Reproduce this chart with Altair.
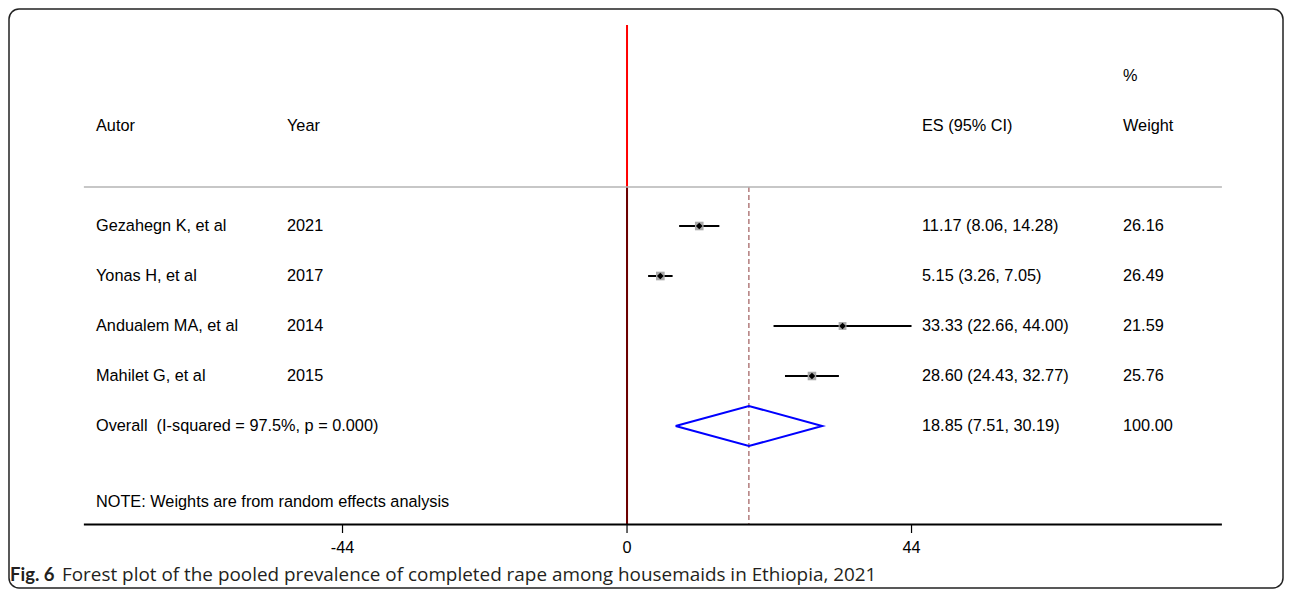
import altair as alt
import pandas as pd

# ---- data ----
authors = ["Gezahegn K, et al", "Yonas H, et al", "Andualem MA, et al", "Mahilet G, et al"]
years = ["2021", "2017", "2014", "2015"]
es = [11.17, 5.15, 33.33, 28.60]
ci_low = [8.06, 3.26, 22.66, 24.43]
ci_high = [14.28, 7.05, 44.00, 32.77]
weights = [26.16, 26.49, 21.59, 25.76]

overall_label = "Overall\u00a0 (I-squared = 97.5%, p = 0.000)"
overall_es = 18.85
overall_low = 7.51
overall_high = 30.19
overall_weight = 100.00

header_cols = ["Autor", "Year", "ES (95% CI)", "Weight"]
weight_top = "%"
x_ticks = [-44, 0, 44]
axis_range = [-84, 92]
note = "NOTE: Weights are from random effects analysis"
caption_bold = "Fig. 6"
caption_text = "Forest plot of the pooled prevalence of completed rape among housemaids in Ethiopia, 2021"

# ---- layout (row units: one study row = 1) ----
ROW_PCT, ROW_HEAD, ROW_SEP = -2, -1, 0.22
ROW_OVERALL, ROW_NOTE, ROW_AXIS = 5, 6.52, 6.97
ROW_TICKLAB, ROW_CAPTION, ROW_TOP = 7.44, 7.98, -3.02
DIAMOND_H = 0.4

W, H = 1274, 579
X = alt.Scale(domain=[-95.58, 101.45], nice=False, zero=False)
Y = alt.Scale(domain=[-3.34, 8.24], reverse=True, nice=False, zero=False)
COL_AUTHOR, COL_YEAR, COL_ES, COL_W = 87, 278, 913, 1114
FONT = "Liberation Sans"
FS = 16.3

rows = list(range(1, len(authors) + 1))
studies = pd.DataFrame({
    "row": rows, "author": authors, "year": years, "es": es,
    "lo": ci_low, "hi": ci_high, "w": weights,
    "es_txt": [f"{e:.2f} ({l:.2f}, {h:.2f})" for e, l, h in zip(es, ci_low, ci_high)],
    "w_txt": [f"{w:.2f}" for w in weights],
})

table = pd.DataFrame({
    "row": rows + [ROW_OVERALL],
    "author": authors + [overall_label],
    "year": years + [""],
    "es_txt": list(studies["es_txt"]) + [f"{overall_es:.2f} ({overall_low:.2f}, {overall_high:.2f})"],
    "w_txt": list(studies["w_txt"]) + [f"{overall_weight:.2f}"],
})

header = pd.DataFrame({"row": [ROW_HEAD], "a": [header_cols[0]], "y": [header_cols[1]],
                       "e": [header_cols[2]], "w": [header_cols[3]], "pct": [weight_top]})

def xq(f):
    return alt.X(f, type="quantitative", scale=X, axis=None)

def yq(f):
    return alt.Y(f, type="quantitative", scale=Y, axis=None)

layers = []

# vertical reference lines
vlines = pd.DataFrame({"x": [0.0], "top": [ROW_TOP], "bot": [ROW_AXIS]})
layers.append(alt.Chart(vlines).mark_rule(color="#ff0000", strokeWidth=2).encode(
    x=xq("x"), y=yq("top"), y2="bot"))
inner = pd.DataFrame({"x": [0.0], "top": [ROW_SEP], "bot": [ROW_AXIS]})
layers.append(alt.Chart(inner).mark_rule(color="#6b0000", strokeWidth=2).encode(
    x=xq("x"), y=yq("top"), y2="bot"))
dash = pd.DataFrame({"x": [overall_es], "top": [ROW_SEP], "bot": [ROW_AXIS]})
layers.append(alt.Chart(dash).mark_rule(color="#8b3a3a", strokeWidth=1, strokeDash=[5, 3]).encode(
    x=xq("x"), y=yq("top"), y2="bot"))

# separator and axis lines
hl = pd.DataFrame({"x": [axis_range[0]], "x2": [axis_range[1]], "r": [ROW_SEP]})
layers.append(alt.Chart(hl).mark_rule(color="#b4b4b4", strokeWidth=1.5).encode(
    x=xq("x"), x2="x2", y=yq("r")))
al = pd.DataFrame({"x": [axis_range[0]], "x2": [axis_range[1]], "r": [ROW_AXIS]})
layers.append(alt.Chart(al).mark_rule(color="#000000", strokeWidth=2).encode(
    x=xq("x"), x2="x2", y=yq("r")))

ticks = pd.DataFrame({"t": x_ticks, "r": [ROW_AXIS] * 3, "r2": [ROW_AXIS + 0.17] * 3,
                      "lab": [str(t) for t in x_ticks], "rl": [ROW_TICKLAB] * 3})
layers.append(alt.Chart(ticks).mark_rule(color="#000000", strokeWidth=1.2).encode(
    x=xq("t"), y=yq("r"), y2="r2"))
layers.append(alt.Chart(ticks).mark_text(font=FONT, fontSize=FS, color="#000", align="center",
                                         baseline="middle").encode(
    x=xq("t"), y=yq("rl"), text="lab:N"))

# confidence intervals and point estimates
layers.append(alt.Chart(studies).mark_rule(color="#000000", strokeWidth=2).encode(
    x=xq("lo"), x2="hi", y=yq("row")))
layers.append(alt.Chart(studies).mark_square(color="#aaaaaa", opacity=1).encode(
    x=xq("es"), y=yq("row"),
    size=alt.Size("w:Q", scale=alt.Scale(domain=[0, 30], range=[0, 85]), legend=None)))
layers.append(alt.Chart(studies).mark_point(shape="diamond", filled=True, color="#000000",
                                            size=45, opacity=1).encode(
    x=xq("es"), y=yq("row")))

# overall diamond
diamond = pd.DataFrame({
    "x": [overall_low, overall_es, overall_high, overall_es, overall_low],
    "r": [ROW_OVERALL, ROW_OVERALL - DIAMOND_H, ROW_OVERALL, ROW_OVERALL + DIAMOND_H, ROW_OVERALL],
    "o": [0, 1, 2, 3, 4],
})
layers.append(alt.Chart(diamond).mark_line(color="#0000ff", strokeWidth=2).encode(
    x=xq("x"), y=yq("r"), order="o:O"))

# text columns
def text_layer(df, field, px, **kw):
    return alt.Chart(df).mark_text(font=FONT, fontSize=FS, color="#000", align="left",
                                   baseline="middle", **kw).encode(
        x=alt.value(px), y=yq("row"), text=f"{field}:N")

layers += [
    text_layer(table, "author", COL_AUTHOR),
    text_layer(table, "year", COL_YEAR),
    text_layer(table, "es_txt", COL_ES),
    text_layer(table, "w_txt", COL_W),
    text_layer(header, "a", COL_AUTHOR),
    text_layer(header, "y", COL_YEAR),
    text_layer(header, "e", COL_ES),
    text_layer(header, "w", COL_W),
]
pct = pd.DataFrame({"row": [ROW_PCT], "t": [weight_top]})
layers.append(text_layer(pct, "t", COL_W))
nt = pd.DataFrame({"row": [ROW_NOTE], "t": [note]})
layers.append(text_layer(nt, "t", COL_AUTHOR))

# caption
cap = pd.DataFrame({"row": [ROW_CAPTION], "b": [caption_bold], "t": [caption_text]})
layers.append(alt.Chart(cap).mark_text(font="Lato", fontSize=18.5, fontWeight="bold", color="#231f20",
                                       align="left", baseline="middle").encode(
    x=alt.value(1), y=yq("row"), text="b:N"))
layers.append(alt.Chart(cap).mark_text(font="Open Sans", fontSize=18.9, color="#231f20",
                                       align="left", baseline="middle").encode(
    x=alt.value(53), y=yq("row"), text="t:N"))

chart = alt.layer(*layers).properties(
    width=W, height=H, autosize="none",
    padding={"left": 1, "top": 1, "right": 1, "bottom": 1},
).configure_view(stroke="#222222", strokeWidth=1.5, cornerRadius=10)

chart.save("out.html", embed_options={"renderer": "svg", "actions": False})
